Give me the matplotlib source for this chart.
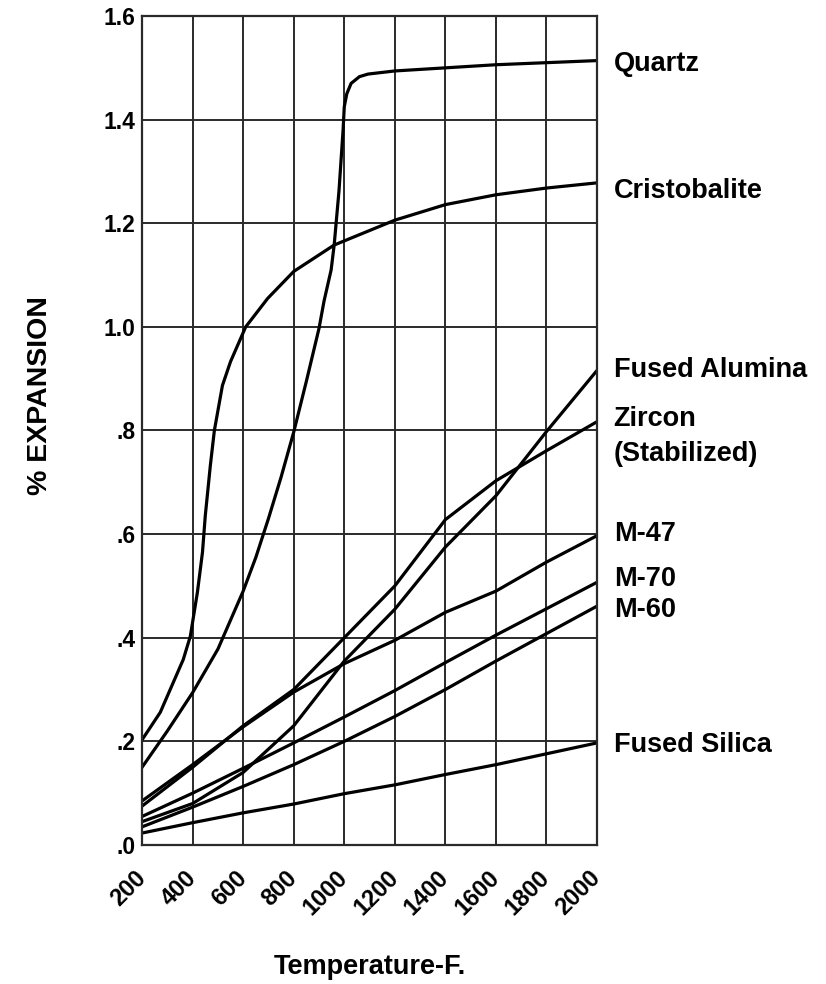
import matplotlib.pyplot as plt
from matplotlib.transforms import ScaledTranslation

plt.rcParams['font.family'] = ['Liberation Sans', 'DejaVu Sans']
plt.rcParams['font.weight'] = 'bold'

# temperatures (F) for the straight-ish lines
temps = [200, 400, 600, 800, 1000, 1200, 1400, 1600, 1800, 2000]
fused_alumina = [0.045, 0.08, 0.14, 0.23, 0.355, 0.455, 0.575, 0.674, 0.798, 0.916]
zircon = [0.075, 0.15, 0.23, 0.30, 0.40, 0.50, 0.628, 0.703, 0.761, 0.817]
m47 = [0.085, 0.155, 0.228, 0.295, 0.35, 0.395, 0.449, 0.49, 0.546, 0.597]
m70 = [0.055, 0.10, 0.148, 0.197, 0.247, 0.298, 0.352, 0.405, 0.456, 0.507]
m60 = [0.035, 0.073, 0.113, 0.155, 0.20, 0.248, 0.30, 0.355, 0.408, 0.461]
fused_silica = [0.023, 0.043, 0.062, 0.079, 0.099, 0.116, 0.136, 0.155, 0.176, 0.197]

quartz_t = [200, 300, 400, 500, 600, 650, 700, 750, 800, 850, 900, 920, 948,
            960, 979, 995, 1000, 1010, 1027, 1060, 1094, 1200, 1400, 1600,
            1800, 2000]
quartz = [0.15, 0.22, 0.294, 0.378, 0.49, 0.555, 0.63, 0.71, 0.797, 0.895,
          0.997, 1.05, 1.11, 1.158, 1.262, 1.378, 1.425, 1.45, 1.47, 1.483,
          1.488, 1.494, 1.50, 1.506, 1.51, 1.514]

crist_t = [200, 272, 363, 391, 419, 439, 450, 470, 486, 518, 550, 610, 697,
           800, 960, 1200, 1400, 1600, 1800, 2000]
crist = [0.203, 0.256, 0.358, 0.403, 0.488, 0.565, 0.635, 0.732, 0.80, 0.887,
         0.933, 1.0, 1.055, 1.107, 1.158, 1.206, 1.236, 1.255, 1.268, 1.278]

# right-hand labels: text and vertical position
labels = ['Quartz', 'Cristobalite', 'Fused Alumina', 'Zircon', '(Stabilized)',
          'M-47', 'M-70', 'M-60', 'Fused Silica']
label_y = [1.508, 1.262, 0.916, 0.823, 0.755, 0.600, 0.513, 0.453, 0.192]

yticks = [0.0, 0.2, 0.4, 0.6, 0.8, 1.0, 1.2, 1.4, 1.6]
ytick_labels = ['.0', '.2', '.4', '.6', '.8', '1.0', '1.2', '1.4', '1.6']

fig = plt.figure(figsize=(8.26, 9.84), dpi=100)
ax = fig.add_axes([0.172, 0.1413, 0.5508, 0.8424])

lw = 2.3
for series in [fused_alumina, zircon, m47, m70, m60, fused_silica]:
    ax.plot(temps, series, color='black', lw=lw, solid_capstyle='butt')
ax.plot(quartz_t, quartz, color='black', lw=lw)
ax.plot(crist_t, crist, color='black', lw=lw)

ax.set_xlim(200, 2000)
ax.set_ylim(0, 1.6)
ax.set_xticks(temps)
ax.set_xticklabels([str(t) for t in temps], rotation=45, ha='right',
                   va='center', rotation_mode='anchor', fontsize=17,
                   fontweight='bold')
shift = ScaledTranslation(4 / 72, 0, fig.dpi_scale_trans)
for lab in ax.get_xticklabels():
    lab.set_transform(lab.get_transform() + shift)
ax.set_yticks(yticks)
ax.set_yticklabels(ytick_labels, fontsize=16.5, fontweight='bold')
ax.tick_params(axis='x', length=0, pad=21)
ax.tick_params(axis='y', length=0, pad=5)
ax.grid(True, color='#2a2a2a', lw=1.4)
ax.set_axisbelow(True)
for sp in ax.spines.values():
    sp.set_linewidth(1.6)
    sp.set_color('#2a2a2a')

for txt, yv in zip(labels, label_y):
    ax.annotate(txt, xy=(2000, yv), xytext=(12, 0), textcoords='offset points',
                ha='left', va='center', fontsize=19.5, fontweight='bold',
                annotation_clip=False)

fig.text(40 / 826, 1 - 396 / 984, '% EXPANSION', rotation=90, ha='center',
         va='center', fontsize=20.5, fontweight='bold')
fig.text(370 / 826, 1 - 967 / 984, 'Temperature-F.', ha='center', va='center',
         fontsize=19.5, fontweight='bold')

fig.savefig('out.png', dpi=100)
